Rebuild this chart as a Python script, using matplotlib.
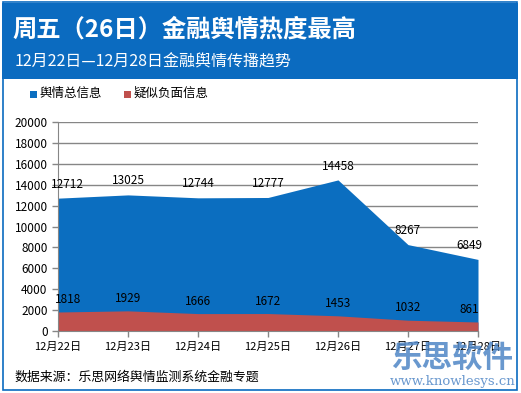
import numpy as np
import matplotlib.pyplot as plt
from matplotlib.patches import Rectangle

plt.rcParams['font.family'] = ['Noto Sans CJK SC', 'DejaVu Sans']

# data
dates = ["12月22日", "12月23日", "12月24日", "12月25日", "12月26日", "12月27日", "12月28日"]
total_info = [12712, 13025, 12744, 12777, 14458, 8267, 6849]
negative_info = [1818, 1929, 1666, 1672, 1453, 1032, 861]
series_names = ["舆情总信息", "疑似负面信息"]
yticks = [0, 2000, 4000, 6000, 8000, 10000, 12000, 14000, 16000, 18000, 20000]

blue = "#0b6ec0"
red = "#c0504d"
frame_blue = "#0b6bc0"
mark_blue = "#4f86c6"

W, H = 521, 393
fig = plt.figure(figsize=(W / 100, H / 100), dpi=100)
fig.patch.set_facecolor("white")

# header band and frame
fig.patches.append(Rectangle((2 / W, 1 - 79 / H), 516 / W, 76 / H, transform=fig.transFigure,
                             facecolor=frame_blue, edgecolor="none", zorder=0))
fig.patches.append(Rectangle((3 / W, 3 / H), 514 / W, 1 - 5 / H, transform=fig.transFigure,
                             facecolor="none", edgecolor=frame_blue, linewidth=1.2, zorder=0))

fig.text(12 / W, 1 - 30 / H, "周五（26日）金融舆情热度最高", color="white", fontsize=17.5,
         fontweight="bold", va="center", ha="left")
fig.text(15 / W, 1 - 62 / H, "12月22日—12月28日金融舆情传播趋势", color="white", fontsize=11.5,
         va="center", ha="left")

# legend
for (sx, tx), col, name in zip([(30, 40), (124, 134)], [blue, red], series_names):
    fig.patches.append(Rectangle((sx / W, 1 - 98 / H), 7 / W, 7 / H, transform=fig.transFigure,
                                 facecolor=col, edgecolor="none"))
    fig.text(tx / W, 1 - 93 / H, name, fontsize=9, va="center", ha="left")

ax = fig.add_axes([58 / W, 1 - 331 / H, 420 / W, 209 / H])
x = np.arange(len(dates))
ax.fill_between(x, 0, total_info, color=blue, linewidth=0, zorder=2)
ax.fill_between(x, 0, negative_info, color=red, linewidth=0, zorder=3)

ax.set_xlim(x[0], x[-1])
ax.set_ylim(0, 20000)
ax.set_yticks(yticks)
ax.set_yticklabels([str(v) for v in yticks], fontsize=8.5)
ax.set_xticks(x)
ax.set_xticklabels(dates, fontsize=8)
ax.grid(axis="y", color="#868686", linewidth=1, zorder=1)
ax.set_axisbelow(True)
for s in ["top", "right"]:
    ax.spines[s].set_visible(False)
for s in ["left", "bottom"]:
    ax.spines[s].set_color("#868686")
    ax.spines[s].set_zorder(4)
ax.tick_params(axis="both", colors="#868686", labelcolor="black", length=4, width=1)

# data labels
for i, (t, n) in enumerate(zip(total_info, negative_info)):
    dx = 7 if i == 0 else (-6 if i == len(x) - 1 else 0)
    ax.annotate(str(t), (x[i], t), xytext=(dx, 10), textcoords="offset points",
                ha="center", va="center", fontsize=8.5, zorder=5, annotation_clip=False)
    ax.annotate(str(n), (x[i], n), xytext=(dx, 9), textcoords="offset points",
                ha="center", va="center", fontsize=8.5, zorder=5, annotation_clip=False)

fig.text(14 / W, 1 - 377 / H, "数据来源：乐思网络舆情监测系统金融专题", fontsize=9.3,
         va="center", ha="left")

# watermark
fig.text(452 / W, 1 - 358 / H, "乐思软件", fontsize=22, fontweight="heavy", color=mark_blue,
         alpha=0.85, va="center", ha="center")
fig.text(453 / W, 1 - 382 / H, "www.knowlesys.cn", fontsize=9.5, family="DejaVu Serif",
         color=mark_blue, alpha=0.85, va="center", ha="center")

fig.savefig("out.png", dpi=100)
